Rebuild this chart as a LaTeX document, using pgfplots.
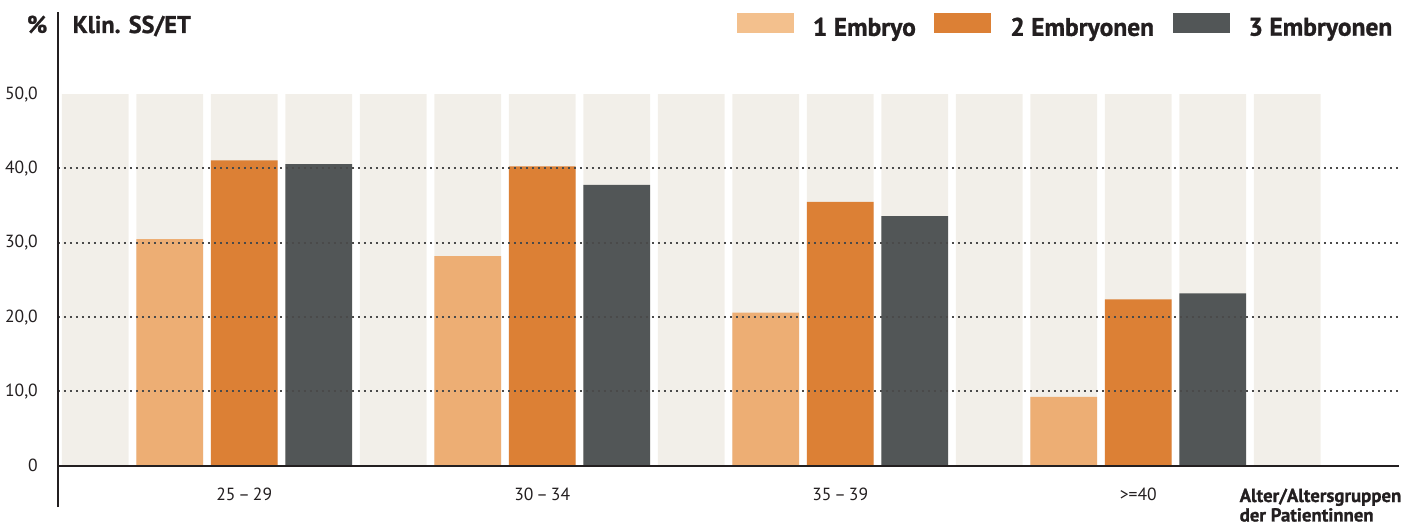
\documentclass[border=0pt]{standalone}
\usepackage{fontspec}
\setmainfont{PT Sans}[BoldFeatures={FakeBold=1}]
\usepackage{pgfplots}
\pgfplotsset{compat=1.18}
\definecolor{bgcol}{HTML}{F2EFE9}
\definecolor{cone}{HTML}{EDAE74}
\definecolor{conel}{HTML}{F3C08D}
\definecolor{ctwo}{HTML}{DC8035}
\definecolor{cthree}{HTML}{525657}
\definecolor{txt}{HTML}{231F20}
\definecolor{gridc}{HTML}{4A4A4A}
\begin{document}
\begin{tikzpicture}
\path[use as bounding box] (0,0) rectangle (141.6mm,52.2mm);
\begin{axis}[
  at={(5.8mm,1.5mm)}, anchor=south west,
  scale only axis, width=134.1mm, height=49.5mm,
  xmin=0.5, xmax=18.5, ymin=-5.56, ymax=61.06,
  axis x line=middle, axis y line=left,
  hide obscured x ticks=false, hide obscured y ticks=false,
  axis line style={-, line width=0.22mm, color=txt},
  axis on top,
  major tick length=0pt,
  xtick style={draw=none}, ytick style={draw=none},
  xtick={3,7,11,15},
  xticklabels={25\,–\,29, 30\,–\,34, 35\,–\,39, >=40},
  xticklabel style={anchor=base, yshift=-3.5mm, inner sep=0pt, font=\fontsize{5}{6}\selectfont, text=txt},
  ytick={10,20,30,40},
  yticklabels={{10,0},{20,0},{30,0},{40,0}},
  extra y ticks={0,50},
  extra y tick labels={0,{50,0}},
  extra y tick style={grid=none},
  yticklabel style={anchor=east, xshift=-1.95mm, inner sep=0pt, font=\fontsize{5}{6}\selectfont, text=txt},
  ymajorgrids,
  grid style={line width=0.2mm, dash pattern=on 0.2mm off 0.4mm, color=gridc},
  /pgf/number format/assume math mode=true,
  legend columns=3,
  legend cell align=left,
  legend image code/.code={\fill[#1] (0mm,-0.35mm) rectangle (5.7mm,1.65mm);},
  legend style={at={(0.9950,0.9697)}, anchor=east, draw=none, fill=none,
    inner sep=0pt, outer sep=0pt,
    nodes={inner sep=0pt, font=\bfseries\fontsize{7.25}{8.5}\selectfont, text=txt},
    /tikz/every odd column/.style={column sep=1.9mm},
    /tikz/every even column/.style={column sep=1.85mm}},
]
\addplot[ybar, bar width=0.893, bar shift=0pt, fill=bgcol, draw=none, forget plot]
  coordinates {(1,50)(2,50)(3,50)(4,50)(5,50)(6,50)(7,50)(8,50)(9,50)(10,50)(11,50)(12,50)(13,50)(14,50)(15,50)(16,50)(17,50)};
\addplot[ybar, bar width=0.893, bar shift=0pt, fill=cone, draw=none, forget plot]
  coordinates {(2,30.5)(6,28.2)(10,20.6)(14,9.25)};
\addplot[ybar, bar width=0.893, bar shift=0pt, fill=ctwo, draw=none, forget plot]
  coordinates {(3,41.1)(7,40.3)(11,35.5)(15,22.4)};
\addplot[ybar, bar width=0.893, bar shift=0pt, fill=cthree, draw=none, forget plot]
  coordinates {(4,40.6)(8,37.8)(12,33.6)(16,23.2)};
\addlegendimage{fill=conel, draw=none}
\addlegendentry{1 Embryo}
\addlegendimage{fill=ctwo, draw=none}
\addlegendentry{2 Embryonen}
\addlegendimage{fill=cthree, draw=none}
\addlegendentry{3 Embryonen}
\end{axis}
\node[anchor=base east, inner sep=0pt, font=\bfseries\fontsize{6.9}{8}\selectfont, text=txt] at (4.8mm,48.9mm) {\%};
\node[anchor=base west, inner sep=0pt, font=\bfseries\fontsize{6.9}{8}\selectfont, text=txt] at (7.2mm,48.9mm) {Klin. SS/ET};
\node[anchor=base west, inner sep=0pt, font=\bfseries\fontsize{5.35}{7}\selectfont, text=txt] at (123.9mm,2.0mm) {Alter/Altersgruppen};
\node[anchor=base west, inner sep=0pt, font=\bfseries\fontsize{5.35}{7}\selectfont, text=txt] at (123.9mm,0.05mm) {der Patientinnen};
\end{tikzpicture}
\end{document}
